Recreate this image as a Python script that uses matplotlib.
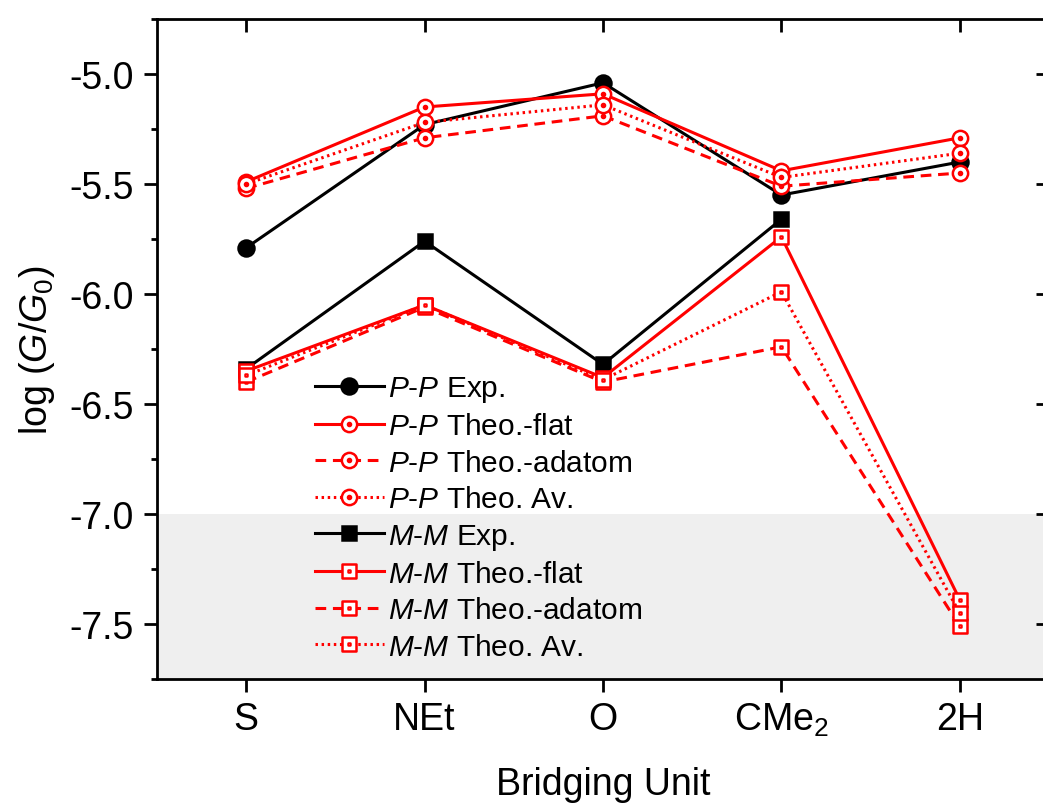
import matplotlib
matplotlib.use('Agg')
import matplotlib.pyplot as plt
from matplotlib.path import Path
import numpy as np

plt.rcParams['font.family'] = ['Liberation Sans', 'DejaVu Sans']
plt.rcParams['mathtext.fontset'] = 'custom'
plt.rcParams['mathtext.rm'] = 'Liberation Sans'
plt.rcParams['mathtext.it'] = 'Liberation Sans:italic'

# data
categories = ['S', 'NEt', 'O', 'CMe$_2$', '2H']
pp_exp = [-5.79, -5.23, -5.04, -5.55, -5.40]
pp_flat = [-5.49, -5.15, -5.09, -5.44, -5.29]
pp_adatom = [-5.52, -5.29, -5.19, -5.51, -5.45]
pp_av = [-5.50, -5.22, -5.14, -5.47, -5.36]
mm_exp = [-6.34, -5.76, -6.32, -5.66, np.nan]
mm_flat = [-6.35, -6.05, -6.38, -5.74, -7.39]
mm_adatom = [-6.40, -6.06, -6.40, -6.24, -7.51]
mm_av = [-6.37, -6.05, -6.39, -5.99, -7.45]

x = np.arange(len(categories))

# circle / square with a small dot in the middle (Origin style)
circ = Path.unit_circle()
dot_c = Path(circ.vertices * 0.2, circ.codes)
circ_dot = Path.make_compound_path(circ, dot_c)
sq = Path([(-1, -1), (1, -1), (1, 1), (-1, 1), (-1, -1)],
          [Path.MOVETO, Path.LINETO, Path.LINETO, Path.LINETO, Path.CLOSEPOLY])
dot_s = Path(sq.vertices * 0.22, sq.codes)
sq_dot = Path.make_compound_path(sq, dot_s)

fig = plt.figure(figsize=(10.43, 8.12), dpi=100)
ax = fig.add_axes([157/1043, 132/812, (1049-157)/1043, 660/812])

ax.axhspan(-7.75, -7.0, color='#efefef', zorder=0, lw=0)

lw = 2.2
dash = (0, (3.5, 2.2))
dots = (0, (0.8, 1.2))
red = '#ff0000'

series = [
    (pp_exp, 'black', '-', 'o', 'black', r'$\it{P}$-$\it{P}$ Exp.'),
    (pp_flat, red, '-', circ_dot, 'white', r'$\it{P}$-$\it{P}$ Theo.-flat'),
    (pp_adatom, red, dash, circ_dot, 'white', r'$\it{P}$-$\it{P}$ Theo.-adatom'),
    (pp_av, red, dots, circ_dot, 'white', r'$\it{P}$-$\it{P}$ Theo. Av.'),
    (mm_exp, 'black', '-', 's', 'black', r'$\it{M}$-$\it{M}$ Exp.'),
    (mm_flat, red, '-', sq_dot, 'white', r'$\it{M}$-$\it{M}$ Theo.-flat'),
    (mm_adatom, red, dash, sq_dot, 'white', r'$\it{M}$-$\it{M}$ Theo.-adatom'),
    (mm_av, red, dots, sq_dot, 'white', r'$\it{M}$-$\it{M}$ Theo. Av.'),
]

for vals, col, ls, mk, mfc, lab in series:
    if mk == 'o':
        ms = 11.5
    elif mk == 's':
        ms = 10
    elif mk is circ_dot:
        ms = 11
    else:
        ms = 9.5
    ax.plot(x, vals, color=col, ls=ls, lw=lw, marker=mk, ms=ms,
            mfc=mfc, mec=col, mew=1.8, label=lab, zorder=3)

ax.set_xlim(-0.5, 4.5)
ax.set_ylim(-7.75, -4.75)
ax.set_xticks(x)
ax.set_xticklabels(categories)
ax.set_yticks(np.arange(-7.5, -4.9, 0.5))
ax.set_yticks(np.arange(-7.75, -4.74, 0.25), minor=True)
ax.set_yticklabels(['-7.5', '-7.0', '-6.5', '-6.0', '-5.5', '-5.0'])

for s in ax.spines.values():
    s.set_linewidth(2.0)

ax.tick_params(axis='x', which='major', direction='out', length=9.5, width=2.0,
               labelsize=27, pad=6)
ax.tick_params(axis='y', which='major', direction='out', length=9.5, width=2.0,
               labelsize=27, pad=7)
ax.tick_params(axis='y', which='minor', direction='out', length=4.5, width=2.0)

top = ax.secondary_xaxis('top')
top.set_xticks(x)
top.tick_params(direction='in', length=9.5, width=2.0, labeltop=False)
right = ax.secondary_yaxis('right')
right.set_yticks(np.arange(-7.5, -4.9, 0.5))
right.set_yticks(np.arange(-7.75, -4.74, 0.25), minor=True)
right.tick_params(which='major', direction='in', length=9.5, width=2.0, labelright=False)
right.tick_params(which='minor', direction='in', length=4.5, width=2.0)

ax.set_xlabel('Bridging Unit', fontsize=27, labelpad=20)
ax.set_ylabel(r'log ($\it{G}$/$\it{G}_{\rm 0}$)', fontsize=27, labelpad=9)

ax.legend(loc='upper left', bbox_to_anchor=(0.177, 0.462), frameon=False,
          fontsize=21.5, handlelength=2.3, handletextpad=0.15, labelspacing=0.28,
          borderpad=0, borderaxespad=0)

fig.savefig('out.png', dpi=100)
